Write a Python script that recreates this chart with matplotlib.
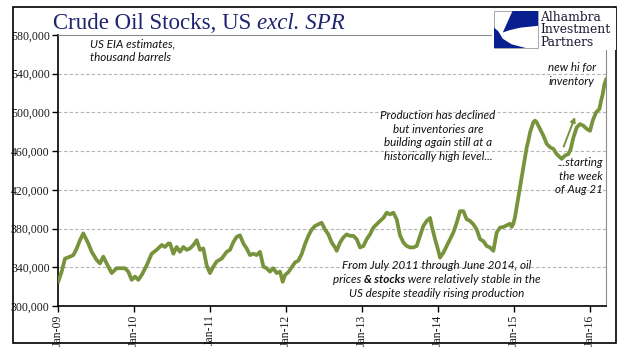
import matplotlib
matplotlib.use("Agg")
import matplotlib.pyplot as plt
import matplotlib.dates as mdates
from matplotlib.patches import Rectangle, Polygon
from matplotlib.ticker import FuncFormatter
import pandas as pd
import numpy as np

# weekly US crude stocks excl. SPR (thousand barrels)
years = [2009.004, 2009.048, 2009.092, 2009.158, 2009.202, 2009.246, 2009.289, 2009.333, 2009.377, 2009.399,
         2009.443, 2009.509, 2009.553, 2009.596, 2009.640, 2009.706, 2009.772, 2009.838, 2009.882, 2009.925,
         2009.969, 2010.013, 2010.057, 2010.101, 2010.167, 2010.232, 2010.298, 2010.364, 2010.408, 2010.452,
         2010.474, 2010.518, 2010.561, 2010.605, 2010.649, 2010.693, 2010.737, 2010.781, 2010.825, 2010.868,
         2010.912, 2010.956, 2011.000, 2011.044, 2011.088, 2011.154, 2011.219, 2011.263, 2011.307, 2011.351,
         2011.395, 2011.439, 2011.482, 2011.526, 2011.570, 2011.614, 2011.658, 2011.702, 2011.746, 2011.789,
         2011.833, 2011.877, 2011.921, 2011.956, 2011.987,
         2012.031, 2012.075, 2012.118, 2012.162, 2012.206, 2012.250, 2012.294, 2012.338, 2012.382, 2012.425,
         2012.469, 2012.513, 2012.557, 2012.601, 2012.645, 2012.667, 2012.711, 2012.754, 2012.798, 2012.842,
         2012.886, 2012.930, 2012.974, 2013.018, 2013.061, 2013.105, 2013.149, 2013.193, 2013.237, 2013.281,
         2013.325, 2013.368, 2013.412, 2013.456,
         2013.500, 2013.544, 2013.588, 2013.632, 2013.675, 2013.719, 2013.763, 2013.807, 2013.851, 2013.895,
         2013.917, 2013.961, 2014.004, 2014.026, 2014.070, 2014.114, 2014.158, 2014.202, 2014.246, 2014.289,
         2014.333, 2014.377, 2014.421, 2014.465, 2014.509, 2014.553, 2014.596, 2014.640, 2014.684, 2014.728,
         2014.772, 2014.816,
         2014.860, 2014.904, 2014.947, 2014.969, 2014.991, 2015.013, 2015.035, 2015.057, 2015.079, 2015.101,
         2015.123, 2015.145, 2015.167, 2015.189, 2015.211, 2015.232, 2015.254, 2015.276, 2015.298, 2015.342,
         2015.386, 2015.430, 2015.474, 2015.518, 2015.561, 2015.605, 2015.627, 2015.671, 2015.715, 2015.746,
         2015.781, 2015.825, 2015.868, 2015.912, 2015.956, 2016.000, 2016.035, 2016.079, 2016.123, 2016.145,
         2016.167, 2016.189, 2016.211]

stocks = [325.3, 335.5, 349, 351, 352.6, 359.5, 368, 375, 368, 364.6,
          356, 347.5, 344, 351, 344, 334, 339, 339, 339, 335.5,
          327, 330.4, 327, 332, 342, 354, 358, 363, 361, 364.6,
          364.6, 354, 361, 356, 361, 358, 359.5, 363, 368, 358,
          359.5, 342, 334, 340.7, 346, 349, 356, 358, 366, 371.5,
          373, 364.6, 359.5, 352.6, 354, 352.6, 356, 340.7, 339, 335.5,
          339, 334, 335.5, 325, 332,
          335, 340, 345, 346.8, 353.7, 364, 372.5, 379, 382.7, 384.4,
          386, 379, 374, 365.6, 360.5, 357, 365.6, 370.8, 374, 372.5,
          372.5, 369, 360.5, 362, 369, 374, 381, 384.4, 387.9, 391,
          396.4, 394.7, 396.4, 389.6,
          373, 365.6, 362, 360.5, 360.5, 362, 372.5, 382.7, 387.9, 391,
          382.7, 369, 357, 350, 355, 362, 369, 376, 386, 398,
          398, 389.6, 387.9, 384.4, 379, 369, 367, 362, 360.5, 357,
          376, 381,
          381.7, 383.4, 385, 381.7, 385, 392, 402, 412.6, 423, 433,
          443.5, 453.7, 464, 471, 479.5, 484.6, 489.8, 491.5, 489.8, 483,
          476, 467.5, 464, 462.3, 457, 453.7, 452, 455.5, 457, 462.3,
          474, 484.6, 488, 486.3, 483, 481, 491.5, 500, 503.5, 512,
          519, 529, 534]

tick_years = [2009, 2010, 2011, 2012, 2013, 2014, 2015, 2016]


def to_date(y):
    return pd.Timestamp("2009-01-01") + pd.to_timedelta((np.asarray(y) - 2009) * 365.25, unit="D")


W, H = 641, 361


def px(x, y):
    return x / W, 1 - y / H


green = "#77933C"
navy = "#1F2470"
serif = "Liberation Serif"
sans = "Lato"

fig = plt.figure(figsize=(6.41, 3.61), dpi=100)
ax = fig.add_axes([58 / W, 1 - 306 / H, (606 - 58) / W, (306 - 35) / H])

dates = to_date(years)
ax.plot(dates, np.array(stocks) * 1000, color=green, lw=2.7, solid_joinstyle="round", zorder=3)

ax.set_ylim(300000, 580000)
ax.set_yticks(range(300000, 580001, 40000))
ax.yaxis.set_major_formatter(FuncFormatter(lambda v, p: f"{int(v):,}"))
ax.set_xlim(to_date(2009.0), to_date(2016.21))
ax.set_xticks([pd.Timestamp(f"{y}-01-01") for y in tick_years])
ax.xaxis.set_major_formatter(mdates.DateFormatter("%b-%y"))
for lab in ax.get_xticklabels():
    lab.set_rotation(90)
for lab in ax.get_xticklabels() + ax.get_yticklabels():
    lab.set_fontfamily(serif)
    lab.set_fontsize(8.5)
    lab.set_color("#1a1a1a")
ax.tick_params(axis="both", direction="out", length=4, width=1, color="black", pad=2)

for v in range(340000, 580000, 40000):
    ax.axhline(v, color="#b5b5b5", lw=0.8, ls=(0, (3, 2)), zorder=1)

ax.spines["left"].set_color("black")
ax.spines["bottom"].set_color("black")
ax.spines["left"].set_linewidth(1.2)
ax.spines["bottom"].set_linewidth(1.2)
ax.spines["top"].set_color("#8c8c8c")
ax.spines["right"].set_color("#8c8c8c")

# arrow marking the build from late Aug 2015
ax.annotate("", xy=(to_date(2015.816), 498000), xytext=(to_date(2015.64), 462000),
            arrowprops=dict(arrowstyle="-|>", color=green, lw=1.4, mutation_scale=7), zorder=4)

# outer frame
fig.add_artist(Rectangle(px(13, 343), (616 - 13) / W, (343 - 7) / H, transform=fig.transFigure,
                         fill=False, ec="black", lw=1.2, zorder=1))

# title
t1 = fig.text(*px(53, 29), "Crude Oil Stocks, US ", family=serif, fontsize=16.5, color=navy, va="baseline")
fig.canvas.draw()
bb = t1.get_window_extent()
fig.text(bb.x1 / W, 1 - 29 / H, "excl. SPR", family=serif, style="italic", fontsize=16.5, color=navy, va="baseline")

# logo
fig.add_artist(Rectangle(px(492, 50), (616 - 492) / W, (50 - 8) / H, transform=fig.transFigure,
                         fc="white", ec="none", zorder=5))
lx0, ly0, lw_, lh_ = 494, 48, 44, 37


def lp(u, v):
    return px(lx0 + u * lw_, ly0 - v * lh_)


fig.add_artist(Rectangle(lp(0, 0), lw_ / W, lh_ / H, transform=fig.transFigure, fc="white", ec="#999999", lw=0.6, zorder=6))
fig.add_artist(Polygon([lp(*p) for p in [(0.42, 1.0), (1.0, 1.0), (1.0, 0.6), (0.6, 0.55), (0.35, 0.48), (0.2, 0.42)]],
                       closed=True, transform=fig.transFigure, fc="#0A1F8F", ec="none", zorder=7))
fig.add_artist(Polygon([lp(*p) for p in [(0.0, 0.0), (0.72, 0.0), (0.4, 0.1), (0.2, 0.25), (0.1, 0.45), (0.0, 0.55)]],
                       closed=True, transform=fig.transFigure, fc="#0A1F8F", ec="none", zorder=7))
for i, word in enumerate(["Alhambra", "Investment", "Partners"]):
    fig.text(*px(540, 21 + i * 12.3), word, family="DejaVu Serif", fontsize=8.8, color="#1a1a33",
             va="baseline", zorder=8)

# annotations
note = dict(family=sans, style="italic", fontsize=8.4, color="#111111", linespacing=1.3)
fig.text(*px(90, 38), "US EIA estimates,\nthousand barrels", ha="left", va="top", **note)
fig.text(*px(572, 62), "new hi for\ninventory", ha="center", va="top", **note)
fig.text(*px(438, 110), "Production has declined\nbut inventories are\nbuilding again still at a\nhistorically high level...",
         ha="center", va="top", **note)
fig.text(*px(603, 157), "...starting\nthe week\nof Aug 21", ha="right", va="top", **note)

# bottom note, with bold "& stocks"
fig.text(*px(437, 269), "From July 2011 through June 2014, oil", ha="center", va="baseline", **note)
fig.text(*px(437, 297), "US despite steadily rising production", ha="center", va="baseline", **note)
parts = [("prices ", "normal"), ("& stocks", "bold"), (" were relatively stable in the", "normal")]
objs = []
for s, w in parts:
    objs.append(fig.text(0, 1 - 283 / H, s, fontweight=w, va="baseline", **note))
fig.canvas.draw()
widths = [o.get_window_extent().width for o in objs]
x = 437 - sum(widths) / 2
for o, wd in zip(objs, widths):
    o.set_x(x / W)
    x += wd

fig.savefig("out.png", dpi=100)
